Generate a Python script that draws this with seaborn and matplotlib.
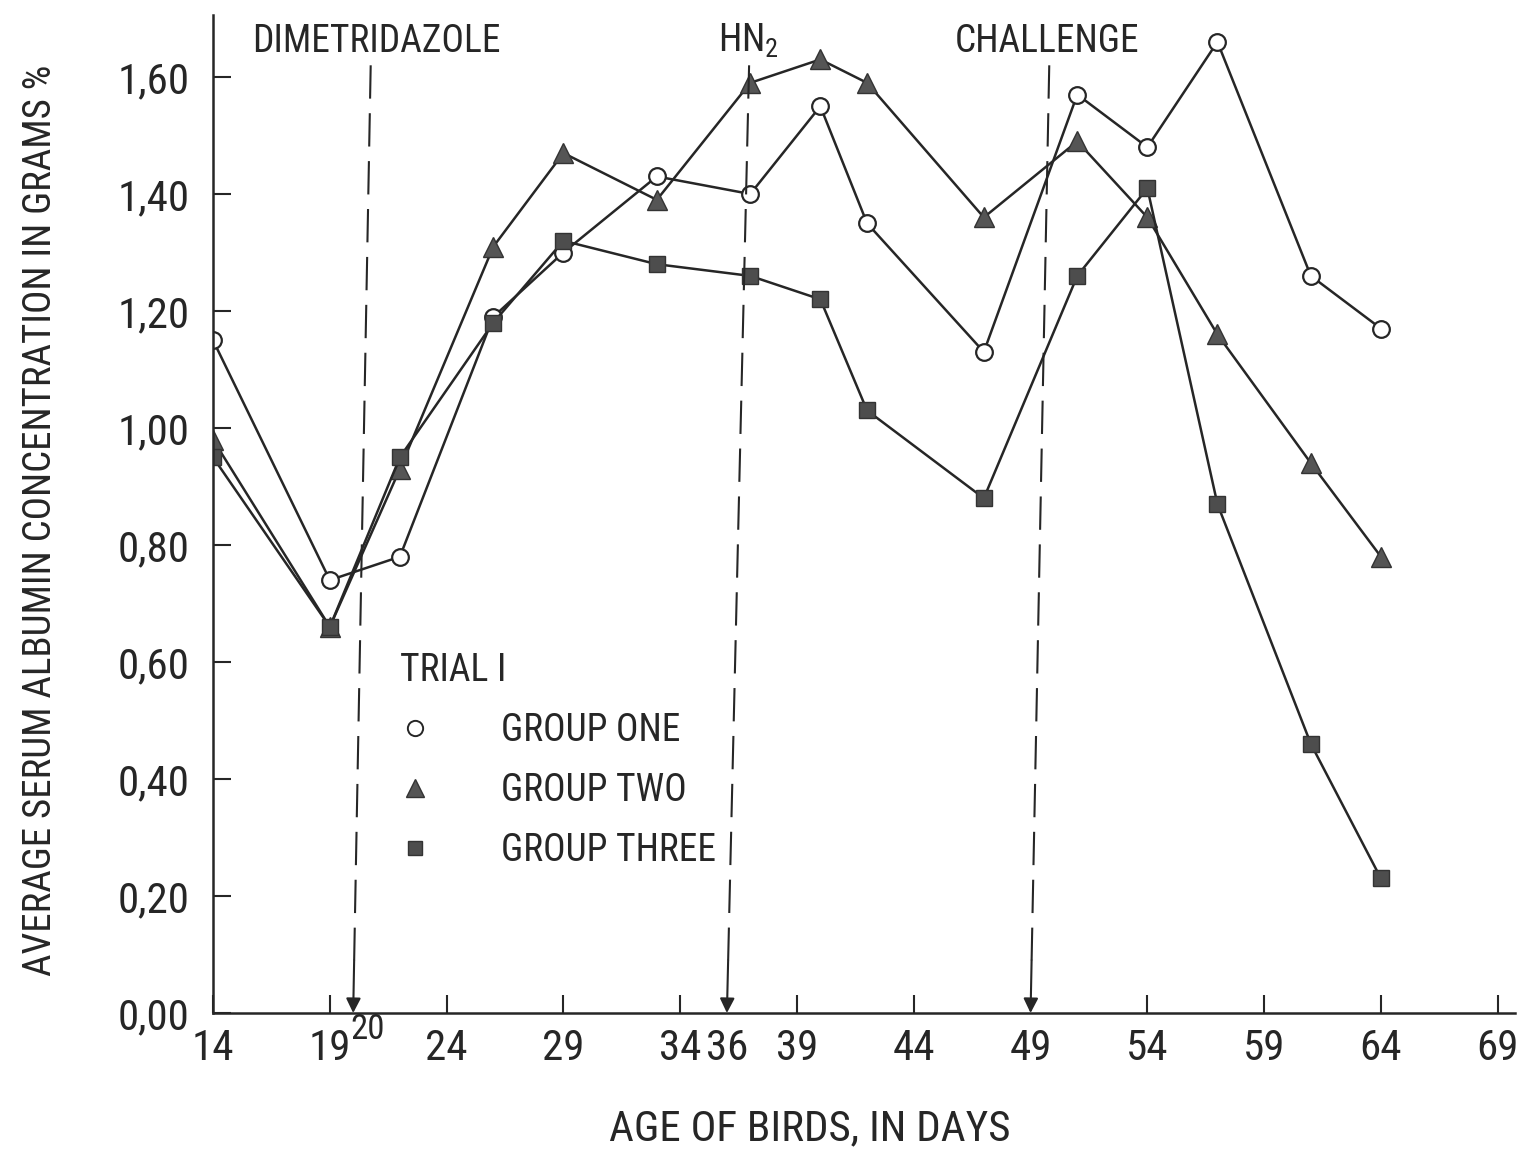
import matplotlib
matplotlib.use("Agg")
import matplotlib.pyplot as plt
import seaborn as sns
import numpy as np
from matplotlib.lines import Line2D
from matplotlib import font_manager

# ages (days) at which serum was sampled
days = [14, 19, 22, 26, 29, 33, 37, 40, 42, 47, 51, 54, 57, 61, 64]

# average serum albumin, grams %
group_one = [1.15, 0.74, 0.78, 1.19, 1.30, 1.43, 1.40, 1.55, 1.35, 1.13, 1.57, 1.48, 1.66, 1.26, 1.17]
group_two = [0.98, 0.66, 0.93, 1.31, 1.47, 1.39, 1.59, 1.63, 1.59, 1.36, 1.49, 1.36, 1.16, 0.94, 0.78]
group_three = [0.95, 0.66, 0.95, 1.18, 1.32, 1.28, 1.26, 1.22, 1.03, 0.88, 1.26, 1.41, 0.87, 0.46, 0.23]

# treatment events: label, day the arrow points to, day at top of the (hand drawn) line
events = ["DIMETRIDAZOLE", "HN$_2$", "CHALLENGE"]
event_days = [20, 36, 49]
event_top_days = [20.75, 36.95, 49.8]
event_label_days = [21.0, 36.9, 49.7]

major_days = [14, 19, 24, 29, 34, 39, 44, 54, 59, 64, 69]
extra_days = [36, 49]
y_ticks = [0.0, 0.2, 0.4, 0.6, 0.8, 1.0, 1.2, 1.4, 1.6]

sns.set_theme(style="ticks")
# pick a narrow face if one is installed, else fall back to a smaller DejaVu
installed = {f.name for f in font_manager.fontManager.ttflist}
narrow = [n for n in ["Roboto Condensed", "Liberation Sans Narrow", "DejaVu Sans Condensed",
                      "Open Sans Condensed", "Noto Sans Condensed"] if n in installed]
plt.rcParams["font.family"] = narrow + ["DejaVu Sans"]
plt.rcParams["font.stretch"] = "condensed"
plt.rcParams["mathtext.default"] = "regular"

scale = 1.0 if narrow else 0.85
FS = 27 * scale        # labels inside the plot
TICK_FS = 31 * scale   # axis numbers
INK = "#262626"

fig = plt.figure(figsize=(15.26, 11.53), dpi=100)
ax = fig.add_axes([0.1396, 0.1214, 0.8532, 0.8656])

line_kw = dict(color=INK, linewidth=1.8)
sns.lineplot(x=days, y=group_one, marker="o", markersize=12, markerfacecolor="white",
             markeredgecolor=INK, markeredgewidth=1.6, ax=ax, **line_kw)
sns.lineplot(x=days, y=group_two, marker="^", markersize=15, markerfacecolor="#555555",
             markeredgecolor="#333333", markeredgewidth=1.0, ax=ax, **line_kw)
sns.lineplot(x=days, y=group_three, marker="s", markersize=11, markerfacecolor="#4d4d4d",
             markeredgecolor="#333333", markeredgewidth=1.0, ax=ax, **line_kw)

# dashed event lines with arrows onto the age axis
top_y = 1.62
arrow_y = 0.09
for name, d, dt, dl in zip(events, event_days, event_top_days, event_label_days):
    xa = d + (dt - d) * arrow_y / top_y
    ax.plot([dt, xa], [top_y, arrow_y], color=INK, linewidth=1.5,
            linestyle=(0, (16, 7)))
    ax.annotate("", xy=(d, 0.0), xytext=(xa, arrow_y),
                arrowprops=dict(arrowstyle="-|>", color=INK, lw=1.5,
                                mutation_scale=22, shrinkA=0, shrinkB=0))
    ax.text(dl, 1.643, name, ha="center", va="baseline", fontsize=FS, color=INK)

ax.text(20.6, 0.0, "20", ha="center", va="top", fontsize=FS - 2, color=INK)

ax.set_xlim(14, 69.74)
ax.set_ylim(0, 1.706)
ax.set_xticks(major_days)
ax.set_xticks(extra_days, minor=True)
ax.set_xticklabels([str(d) for d in major_days])
ax.set_xticklabels([str(d) for d in extra_days], minor=True)
ax.set_yticks(y_ticks)
ax.set_yticklabels([f"{v:.2f}".replace(".", ",") for v in y_ticks])

ax.tick_params(axis="both", which="major", direction="in", length=13, width=1.5,
               colors=INK, labelsize=TICK_FS)
ax.tick_params(axis="x", which="major", pad=11)
ax.tick_params(axis="y", which="major", pad=17)
ax.tick_params(axis="x", which="minor", length=0, labelsize=TICK_FS, pad=11, colors=INK)

sns.despine(ax=ax)
for s in ["left", "bottom"]:
    ax.spines[s].set_linewidth(1.8)
    ax.spines[s].set_color(INK)

ax.set_xlabel("AGE OF BIRDS, IN DAYS", fontsize=31 * scale, color=INK)
ax.set_ylabel("AVERAGE SERUM ALBUMIN CONCENTRATION IN GRAMS %", fontsize=28 * scale, color=INK)
ax.xaxis.set_label_coords(0.4585, -0.095)
ax.yaxis.set_label_coords(-0.118, 0.494)

handles = [
    Line2D([], [], linestyle="none", marker="o", markersize=11, markerfacecolor="white",
           markeredgecolor=INK, markeredgewidth=1.4),
    Line2D([], [], linestyle="none", marker="^", markersize=13, markerfacecolor="#555555",
           markeredgecolor="#333333"),
    Line2D([], [], linestyle="none", marker="s", markersize=10, markerfacecolor="#4d4d4d",
           markeredgecolor="#333333"),
]
leg = ax.legend(handles, ["GROUP ONE", "GROUP TWO", "GROUP THREE"], title="TRIAL I",
                loc="upper left", bbox_to_anchor=(0.1436, 0.362), frameon=False,
                fontsize=FS, title_fontsize=FS, alignment="left", borderpad=0,
                borderaxespad=0, handlelength=0.8, handletextpad=1.9, labelspacing=0.62)
for t in leg.get_texts():
    t.set_color(INK)
leg.get_title().set_color(INK)

fig.savefig("out.png", dpi=100, facecolor="white")
